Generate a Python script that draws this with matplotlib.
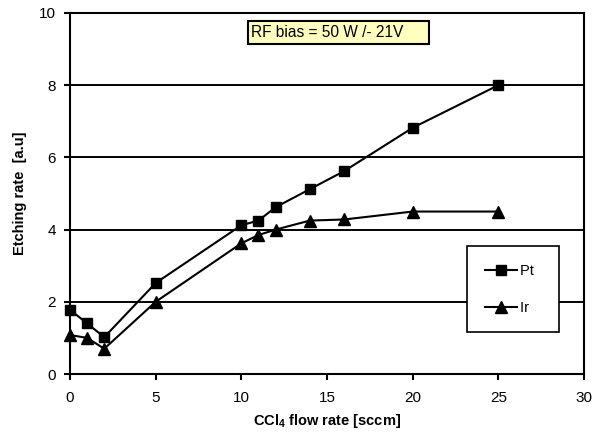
import matplotlib
matplotlib.use("Agg")
import matplotlib.pyplot as plt

# CCl4 flow rate (sccm) and etching rates (a.u.)
flow = [0, 1, 2, 5, 10, 11, 12, 14, 16, 20, 25]
pt_rate = [1.78, 1.40, 1.02, 2.52, 4.12, 4.25, 4.62, 5.12, 5.62, 6.82, 8.00]
ir_rate = [1.08, 1.00, 0.70, 2.00, 3.62, 3.85, 4.00, 4.25, 4.28, 4.50, 4.50]

plt.rcParams['font.family'] = ['Liberation Sans', 'DejaVu Sans']

fig = plt.figure(figsize=(5.99, 4.32), dpi=100)
ax = fig.add_axes([70 / 599, 1 - 374 / 432, 514 / 599, 361 / 432])

ax.plot(flow, pt_rate, color='black', marker='s', markersize=7, linewidth=1.5,
        label='Pt', zorder=3, clip_on=False)
ax.plot(flow, ir_rate, color='black', marker='^', markersize=8, linewidth=1.5,
        label='Ir', zorder=3, clip_on=False)

ax.set_xlim(0, 30)
ax.set_ylim(0, 10)
ax.set_xticks(range(0, 31, 5))
ax.set_yticks(range(0, 11, 2))
ax.yaxis.grid(True, color='black', linewidth=1.4)
ax.set_axisbelow(True)
for s in ax.spines.values():
    s.set_linewidth(1.5)
ax.tick_params(axis='both', direction='out', length=4, width=1.5, labelsize=11, pad=6)
ax.tick_params(axis='x', pad=8)

ax.set_xlabel('CCl$_\\mathregular{4}$ flow rate [sccm]', fontsize=10.5, fontweight='bold', labelpad=5)
ax.set_ylabel('Etching rate  [a.u]', fontsize=10.5, fontweight='bold', labelpad=9)

ax.text(0.353, 0.945, 'RF bias = 50 W /- 21V     ', transform=ax.transAxes, fontsize=11.2,
        ha='left', va='center',
        bbox=dict(boxstyle='square,pad=0.25', facecolor='#FFFFC0', edgecolor='black', linewidth=1.5))

leg = ax.legend(loc='lower right', bbox_to_anchor=(0.952, 0.115), frameon=True, fancybox=False,
                edgecolor='black', framealpha=1, fontsize=10.5, handlelength=2.2,
                labelspacing=1.6, borderpad=1.2, handletextpad=0.2, borderaxespad=0)
leg.get_frame().set_linewidth(1.2)
for t in leg.get_texts():
    t.set_text(t.get_text() + '  ')

fig.savefig('out.png', dpi=100)
